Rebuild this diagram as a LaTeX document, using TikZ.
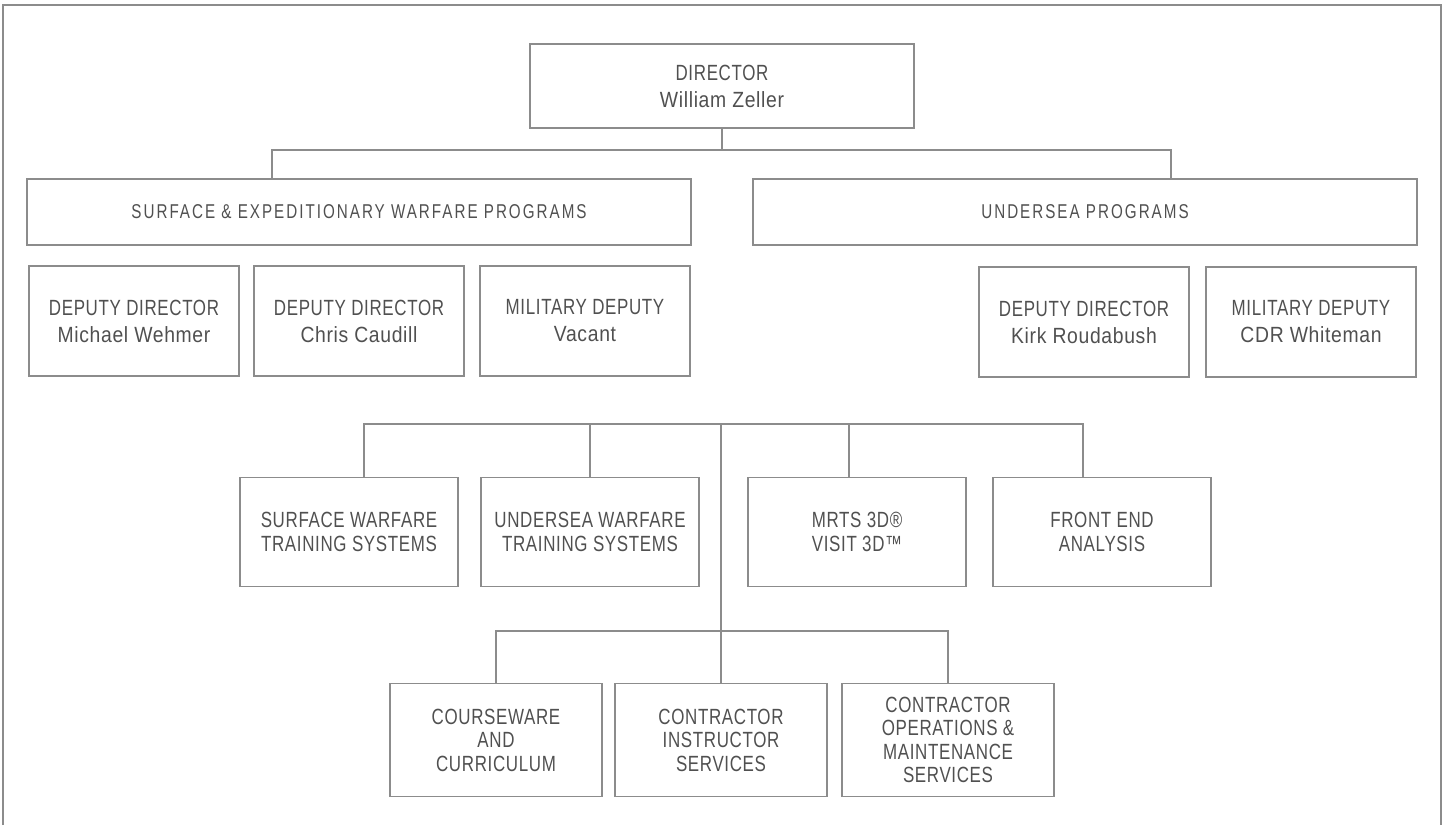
\documentclass[tikz,border=0pt]{standalone}
\usepackage{fontspec}
\setmainfont{Liberation Sans}[FakeStretch=0.77,LetterSpace=3]
\newfontfamily\headfont{Liberation Sans}[FakeStretch=0.76,LetterSpace=10]
\newfontfamily\namefont{Liberation Sans}[FakeStretch=0.88,LetterSpace=3]
\definecolor{linegray}{HTML}{8C8C8C}
\definecolor{textgray}{HTML}{505050}

\begin{document}
\begin{tikzpicture}[x=1pt,y=-1pt,line width=1.1pt,
    box/.style={draw=linegray,inner sep=0pt,align=center,text=textgray},
    namebox/.style={box,font=\fontsize{22}{27}\selectfont},
    unitbox/.style={box,font=\fontsize{22}{23.5}\selectfont},
    headbox/.style={box,font=\fontsize{20}{23}\headfont,minimum width=664,minimum height=66}]
  \useasboundingbox (0,0) rectangle (1448,825);
  \draw [linegray] (3,825) -- (3,5) -- (1441,5) -- (1441,825);

  % top
  \node [namebox,minimum width=384,minimum height=84] (dir) at (722,86) {DIRECTOR\\\namefont William Zeller};
  \node [headbox] (sewp) at (359,212) {SURFACE \& EXPEDITIONARY WARFARE PROGRAMS};
  \node [headbox] (usp) at (1085,212) {UNDERSEA PROGRAMS};
  \coordinate (j) at (722,150);
  \coordinate (jl) at (272,150);
  \coordinate (jr) at (1171,150);
  \draw [linegray] (dir.south) -- (j);
  \draw [linegray] (jl |- sewp.north) -- (jl) -- (jr) -- (jr |- usp.north);

  % deputies
  \begin{scope}[every node/.style={namebox,minimum width=210,minimum height=110}]
    \node (dd1) at (134,321) {DEPUTY DIRECTOR\\\namefont Michael Wehmer};
    \node (dd2) at (359,321) {DEPUTY DIRECTOR\\\namefont Chris Caudill};
    \node (md1) at (585,321) {MILITARY DEPUTY\\\namefont Vacant};
    \node (dd3) at (1084,322) {DEPUTY DIRECTOR\\\namefont Kirk Roudabush};
    \node (md2) at (1311,322) {MILITARY DEPUTY\\\namefont CDR Whiteman};
  \end{scope}

  % training systems
  \begin{scope}[every node/.style={unitbox,minimum width=218,minimum height=109}]
    \node (swts) at (349,532) {SURFACE WARFARE\\TRAINING SYSTEMS};
    \node (uwts) at (590,532) {UNDERSEA WARFARE\\TRAINING SYSTEMS};
    \node (mrts) at (857,532) {MRTS 3D®\\VISIT 3D™};
    \node (fea) at (1102,532) {FRONT END\\ANALYSIS};
  \end{scope}
  \coordinate (b1) at (364,424);
  \coordinate (b2) at (590,424);
  \coordinate (b3) at (849,424);
  \coordinate (b4) at (1083,424);
  \draw [linegray] (b1 |- swts.north) -- (b1) -- (b4) -- (b4 |- fea.north);
  \draw [linegray] (b2) -- (uwts.north);
  \draw [linegray] (b3) -- (b3 |- mrts.north);

  % services
  \begin{scope}[every node/.style={unitbox,minimum width=212,minimum height=113}]
    \node (cac) at (496,740) {COURSEWARE\\AND\\CURRICULUM};
    \node (cis) at (721,740) {CONTRACTOR\\INSTRUCTOR\\SERVICES};
    \node (coms) at (948,740) {CONTRACTOR\\OPERATIONS \&\\MAINTENANCE\\SERVICES};
  \end{scope}
  \coordinate (c) at (721,424);
  \coordinate (cl) at (496,631);
  \coordinate (cr) at (948,631);
  \draw [linegray] (c) -- (cis.north);
  \draw [linegray] (cac.north) -- (cl) -- (cr) -- (coms.north);
\end{tikzpicture}
\end{document}
